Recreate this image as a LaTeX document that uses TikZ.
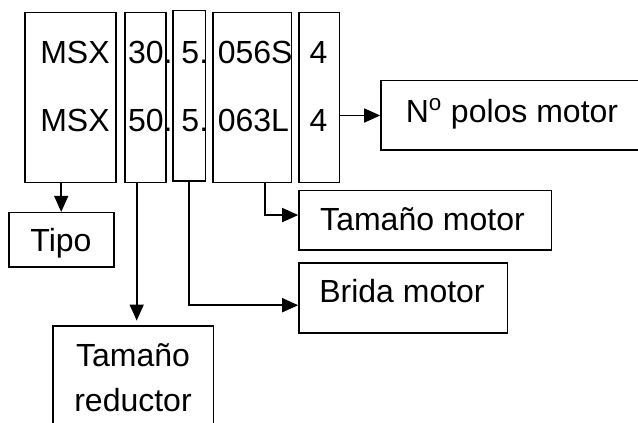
\documentclass[tikz,border=0pt]{standalone}
\usepackage{fontspec}
\setmainfont{Liberation Sans}
\usepackage{tikz}
\usetikzlibrary{arrows.meta, positioning, calc, fit}
\tikzset{
  >={Triangle[length=12pt, width=10.5pt]},
  box/.style   = {draw, line width=1.2pt, inner sep=0pt},
  txt/.style   = {font=\fontsize{24}{29}\selectfont, inner sep=0pt},
  arrow/.style = {->, line width=1.2pt},
}

\begin{document}
\begin{tikzpicture}[x=0.75pt, y=-0.75pt]
  \path[use as bounding box, fill=white] (0,0) rectangle (638,423);

  % Top row: code fields
  \node[box, fit={(24.7,12.7) (115.7,182.7)}]  (msx) {};
  \node[box, fit={(125,12.7) (165.7,182.7)}]   (red) {};
  \node[box, fit={(172.7,10.7) (205.3,181)}]   (fla) {};
  \node[box, fit={(212.7,12.7) (291.3,182.7)}] (mot) {};
  \node[box, fit={(299,12.7) (339.3,182.7)}]   (pol) {};

  % Field values, two example codes
  \foreach \r/\yb/\a/\b in {1/64/30/056S, 2/131.7/50/063L} {
    \node[txt, anchor=base west] (msx\r) at (40,\yb)    {MSX};
    \node[txt, anchor=base west] (red\r) at (127.8,\yb) {\a.};
    \node[txt, anchor=base west] (fla\r) at (181.2,\yb) {5.};
    \node[txt, anchor=base west] (mot\r) at (217.5,\yb) {\b};
    \node[txt, anchor=base west] (pol\r) at (309.4,\yb) {4};
  }

  % Description boxes
  \node[box, fit={(381,80.7) (660,150.3)}]    (polos) {};
  \node[box, fit={(8.7,212.7) (113.7,267)}]   (tipo)  {};
  \node[box, fit={(299,190.5) (551.3,250.3)}] (tmot)  {};
  \node[box, fit={(299,263.3) (507.5,333)}]   (brida) {};
  \node[box, fit={(52.7,326.3) (213.3,440)}]  (tred)  {};

  \node[txt, anchor=base] (polosl) at (512,122.3)   {N\textsuperscript{o} polos motor};
  \node[txt, anchor=base] (tipol)  at (61,251.7)    {Tipo};
  \node[txt, anchor=base] (tmotl)  at (422.5,230.7) {Tamaño motor};
  \node[txt, anchor=base] (bridal) at (402,303)     {Brida motor};
  \node[txt, anchor=base] (tredl)  at (133,366.3)   {Tamaño};
  \node[txt, anchor=base] (tredl2) at (133,411.3)   {reductor};

  % Edges
  \coordinate (rx) at (136.7,0);
  \coordinate (mx) at (265,0);
  \draw[arrow] (tipo.north |- msx.south) -- (tipo.north);
  \draw[arrow, shorten >=3.7pt] (rx |- red.south) -- (rx |- tred.north);
  \draw[arrow] (fla.south) |- ([yshift=-5.3pt]brida.west);
  \draw[arrow] (mx |- mot.south) |- ([yshift=4pt]tmot.west);
  \draw[arrow] (pol.east |- polos.west) -- (polos.west);
\end{tikzpicture}
\end{document}
